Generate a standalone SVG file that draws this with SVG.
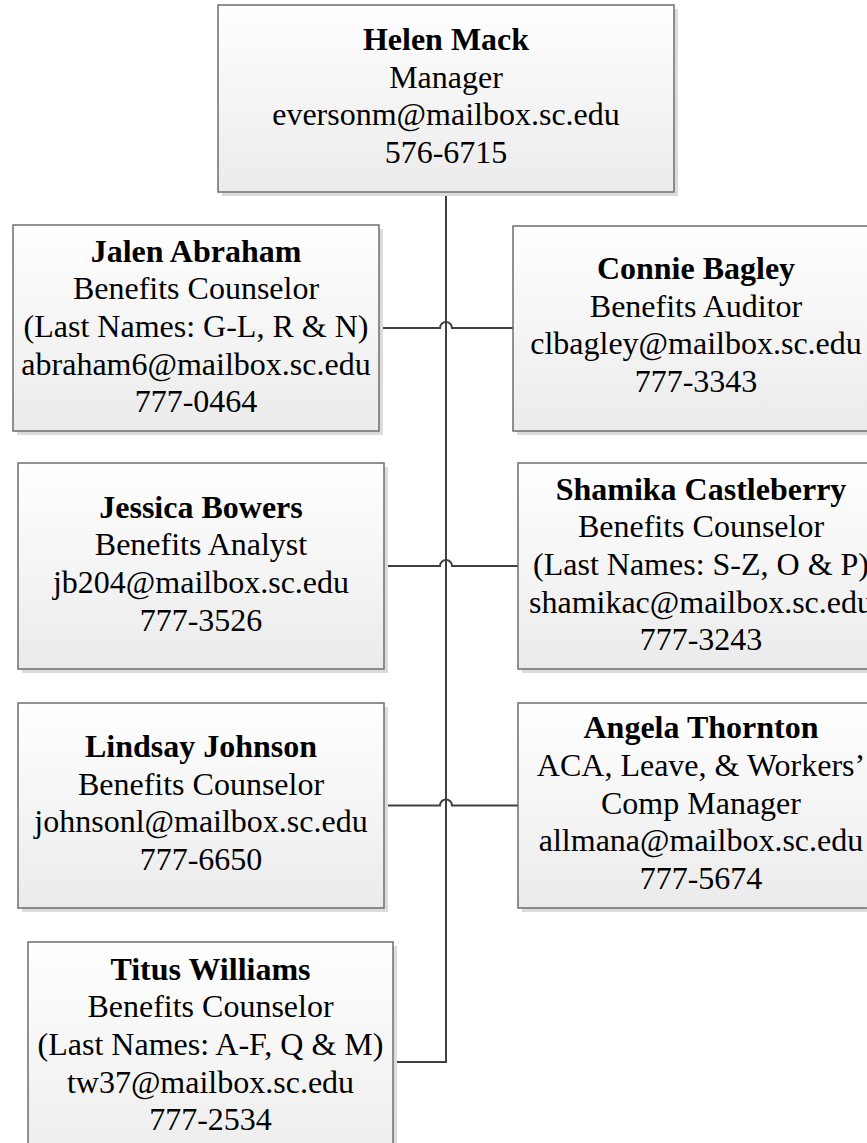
<svg xmlns="http://www.w3.org/2000/svg" width="867" height="1143" viewBox="0 0 867 1143">
<defs>
<linearGradient id="g" x1="0" y1="0" x2="0" y2="1">
<stop offset="0" stop-color="#ffffff"/>
<stop offset="1" stop-color="#ebebeb"/>
</linearGradient>
</defs>
<style>
.sh{fill:#dcdcdc;}
.bx{fill:url(#g);stroke:#6e6e6e;stroke-width:1.5;}
text{font-family:"Liberation Serif","Times New Roman",serif;font-size:32px;fill:#000;text-anchor:middle;}
.n{font-weight:bold;}
.c{fill:none;stroke:#404040;stroke-width:2;}
</style>
<rect width="867" height="1143" fill="#fff"/>
<g id="connectors">
<path class="c" d="M446,192 V1062 H393"/>
<path class="c" d="M378,328 H440 A6,6 0 0 1 452,328 H513"/>
<path class="c" d="M383,566 H440 A6,6 0 0 1 452,566 H518"/>
<path class="c" d="M383,805.5 H440 A6,6 0 0 1 452,805.5 H518"/>
</g>
<g id="helen">
<rect class="sh" x="222" y="9" width="456" height="187"/>
<rect class="bx" x="218" y="5" width="456" height="187"/>
<text x="446" y="50" class="n">Helen Mack</text>
<text x="446" y="87.7">Manager</text>
<text x="446" y="125.4">eversonm@mailbox.sc.edu</text>
<text x="446" y="163.1">576-6715</text>
</g>
<g id="jalen">
<rect class="sh" x="17" y="229" width="366" height="206"/>
<rect class="bx" x="13" y="225" width="366" height="206"/>
<text x="196" y="261.6" class="n">Jalen Abraham</text>
<text x="196" y="299.3">Benefits Counselor</text>
<text x="196" y="337">(Last Names: G-L, R &amp; N)</text>
<text x="196" y="374.7">abraham6@mailbox.sc.edu</text>
<text x="196" y="412.4">777-0464</text>
</g>
<g id="connie">
<rect class="sh" x="517" y="230" width="366" height="205"/>
<rect class="bx" x="513" y="226" width="366" height="205"/>
<text x="696" y="279" class="n">Connie Bagley</text>
<text x="696" y="316.7">Benefits Auditor</text>
<text x="696" y="354.4">clbagley@mailbox.sc.edu</text>
<text x="696" y="392.1">777-3343</text>
</g>
<g id="jessica">
<rect class="sh" x="22" y="467" width="366" height="206"/>
<rect class="bx" x="18" y="463" width="366" height="206"/>
<text x="201" y="517.5" class="n">Jessica Bowers</text>
<text x="201" y="555.2">Benefits Analyst</text>
<text x="201" y="592.9">jb204@mailbox.sc.edu</text>
<text x="201" y="630.6">777-3526</text>
</g>
<g id="shamika">
<rect class="sh" x="522" y="467" width="366" height="206"/>
<rect class="bx" x="518" y="463" width="366" height="206"/>
<text x="701" y="499.6" class="n">Shamika Castleberry</text>
<text x="701" y="537.3">Benefits Counselor</text>
<text x="701" y="575">(Last Names: S-Z, O &amp; P)</text>
<text x="701" y="612.7">shamikac@mailbox.sc.edu</text>
<text x="701" y="650.4">777-3243</text>
</g>
<g id="lindsay">
<rect class="sh" x="22" y="707" width="366" height="205"/>
<rect class="bx" x="18" y="703" width="366" height="205"/>
<text x="201" y="757" class="n">Lindsay Johnson</text>
<text x="201" y="794.7">Benefits Counselor</text>
<text x="201" y="832.4">johnsonl@mailbox.sc.edu</text>
<text x="201" y="870.1">777-6650</text>
</g>
<g id="angela">
<rect class="sh" x="522" y="707" width="366" height="205"/>
<rect class="bx" x="518" y="703" width="366" height="205"/>
<text x="701" y="738.1" class="n">Angela Thornton</text>
<text x="701" y="775.8">ACA, Leave, &amp; Workers’</text>
<text x="701" y="813.5">Comp Manager</text>
<text x="701" y="851.2">allmana@mailbox.sc.edu</text>
<text x="701" y="888.9">777-5674</text>
</g>
<g id="titus">
<rect class="sh" x="32" y="946" width="365" height="240"/>
<rect class="bx" x="28" y="942" width="365" height="240"/>
<text x="210.5" y="979.6" class="n">Titus Williams</text>
<text x="210.5" y="1017.3">Benefits Counselor</text>
<text x="210.5" y="1055">(Last Names: A-F, Q &amp; M)</text>
<text x="210.5" y="1092.7">tw37@mailbox.sc.edu</text>
<text x="210.5" y="1130.4">777-2534</text>
</g>
</svg>
